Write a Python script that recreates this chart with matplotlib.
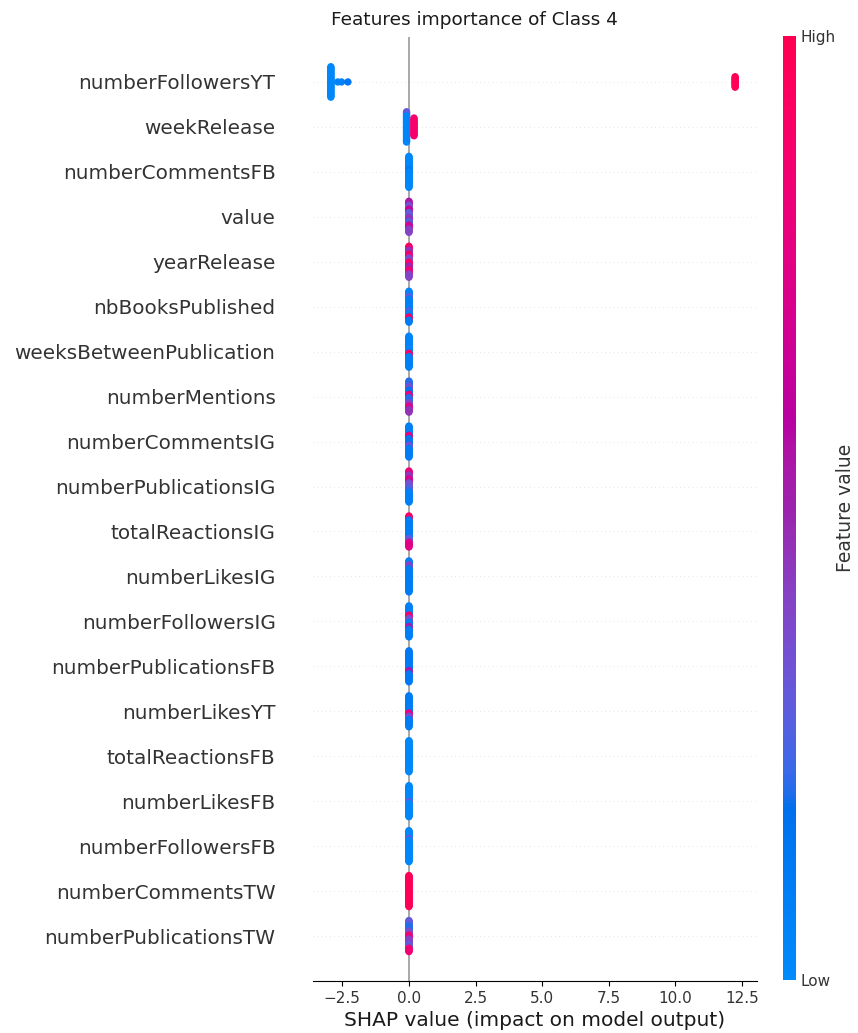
import numpy as np
import matplotlib
matplotlib.use("Agg")
import matplotlib.pyplot as plt
from matplotlib.colors import LinearSegmentedColormap
from matplotlib.cm import ScalarMappable

# Features, most important first
features = [
    "numberFollowersYT", "weekRelease", "numberCommentsFB", "value",
    "yearRelease", "nbBooksPublished", "weeksBetweenPublication",
    "numberMentions", "numberCommentsIG", "numberPublicationsIG",
    "totalReactionsIG", "numberLikesIG", "numberFollowersIG",
    "numberPublicationsFB", "numberLikesYT", "totalReactionsFB",
    "numberLikesFB", "numberFollowersFB", "numberCommentsTW",
    "numberPublicationsTW",
]

# SHAP value shared by each group of samples, per feature
group_shap = [
    [-2.93, -2.67, -2.53, -2.29, 12.24],
    [-0.09, 0.19],
    [0.0], [0.0], [0.0], [0.0], [0.0], [0.0], [0.0], [0.0],
    [0.0], [0.0], [0.0], [0.0], [0.0], [0.0], [0.0], [0.0],
    [0.0], [0.0],
]

# Samples inside each group as (count, normalised feature value), listed top to bottom
group_runs = [
    [[(33, 0.02)], [(1, 0.04)], [(1, 0.06)], [(1, 0.15)], [(12, 0.97)]],
    [[(4, 0.3), (26, 0.05)], [(18, 0.88)]],
    [[(20, 0.03), (4, 0.12), (24, 0.03)]],
    [[(6, 0.55), (6, 0.35), (5, 0.65), (8, 0.3), (6, 0.45), (5, 0.25), (6, 0.7), (6, 0.4)]],
    [[(6, 0.9), (6, 0.45), (6, 0.85), (6, 0.35), (6, 0.9), (6, 0.5), (6, 0.85), (6, 0.4)]],
    [[(8, 0.05), (4, 0.3), (18, 0.08), (4, 0.25), (5, 0.05), (5, 0.9), (4, 0.1)]],
    [[(26, 0.05), (5, 0.9), (17, 0.08)]],
    [[(8, 0.2), (6, 0.35), (6, 0.15), (5, 0.8), (8, 0.2), (5, 0.4), (5, 0.75), (5, 0.45)]],
    [[(14, 0.08), (5, 0.8), (10, 0.15), (5, 0.35), (14, 0.1)]],
    [[(6, 0.8), (6, 0.45), (6, 0.7), (8, 0.35), (6, 0.25), (16, 0.08)]],
    [[(6, 0.9), (28, 0.1), (6, 0.3), (8, 0.75)]],
    [[(6, 0.1), (6, 0.4), (36, 0.1)]],
    [[(14, 0.08), (5, 0.9), (6, 0.35), (6, 0.1), (5, 0.5), (12, 0.08)]],
    [[(30, 0.12), (5, 0.55), (13, 0.12)]],
    [[(26, 0.1), (5, 0.8), (5, 0.35), (12, 0.1)]],
    [[(48, 0.02)]],
    [[(24, 0.03), (3, 0.3), (21, 0.03)]],
    [[(12, 0.03), (3, 0.3), (33, 0.03)]],
    [[(48, 0.97)]],
    [[(8, 0.3), (8, 0.2), (6, 0.35), (6, 0.85), (8, 0.4), (6, 0.3), (6, 0.85)]],
]

x_ticks = [-2.5, 0.0, 2.5, 5.0, 7.5, 10.0, 12.5]


def lch_to_rgb(l, c, h):
    """CIE LCh -> sRGB (D65), clipped to the displayable range."""
    a, b = c * np.cos(h), c * np.sin(h)
    fy = (l + 16.0) / 116.0
    fx = fy + a / 500.0
    fz = fy - b / 200.0

    def finv(t):
        return t ** 3 if t > 6.0 / 29.0 else 3 * (6.0 / 29.0) ** 2 * (t - 4.0 / 29.0)

    xyz = np.array([0.95047 * finv(fx), 1.0 * finv(fy), 1.08883 * finv(fz)])
    m = np.array([[3.2404542, -1.5371385, -0.4985314],
                  [-0.9692660, 1.8760108, 0.0415560],
                  [0.0556434, -0.2040259, 1.0572252]])
    lin = m @ xyz
    rgb = np.where(lin > 0.0031308, 1.055 * np.abs(lin) ** (1 / 2.4) - 0.055, 12.92 * lin)
    return np.clip(rgb, 0, 1)


# Perceptual blue -> red colour scale
nsteps = 100
l_vals = np.concatenate([np.linspace(54.0, 40.0, nsteps // 2), np.linspace(40.0, 54.0, nsteps // 2)])
c_vals = np.linspace(70.0, 90.0, nsteps)
h_vals = np.linspace(4.6588, 0.35470565 + 2 * np.pi, nsteps)
cm_colors = [lch_to_rgb(l, c, h) for l, c, h in zip(l_vals, c_vals, h_vals)]
red_blue = LinearSegmentedColormap.from_list("red_blue", list(zip(np.linspace(0, 1, nsteps), cm_colors)))

W, H = 858, 1033
fig = plt.figure(figsize=(W / 100, H / 100), dpi=100)
ax = fig.add_axes([313 / W, 1 - 981 / H, 444 / W, 944 / H])
cax = fig.add_axes([783 / W, 1 - 980 / H, 13 / W, 944 / H])

n_rows = len(features)
for i, (shaps, runs) in enumerate(zip(group_shap, group_runs)):
    pos = n_rows - 1 - i
    ax.axhline(pos, color="#cccccc", lw=0.5, dashes=(1, 5), zorder=-1)
    counts = [sum(cnt for cnt, _ in r) for r in runs]
    step = 0.72 / (max(counts) + 1)
    xs, ys, cs = [], [], []
    for s, r in zip(shaps, runs):
        vals = np.concatenate([[fv] * cnt for cnt, fv in r])
        k = len(vals)
        offs = ((k - 1) / 2.0 - np.arange(k)) * step
        xs.extend([s] * k)
        ys.extend(pos + offs)
        cs.extend(vals)
    ax.scatter(xs, ys, c=cs, cmap=red_blue, vmin=0, vmax=1, s=28,
               linewidth=0, zorder=3)

ax.axvline(0, color="#999999", lw=1.2, zorder=-1)
ax.set_ylim(-1, n_rows)
ax.set_xlim(-3.6, 13.06)
ax.set_yticks(range(n_rows))
ax.set_yticklabels(features[::-1], fontsize=14.4, color="#333333")
ax.tick_params(axis="y", length=0, pad=27)
ax.set_xticks(x_ticks)
ax.tick_params(axis="x", labelsize=11, labelcolor="#333333")
for side in ("top", "right", "left"):
    ax.spines[side].set_visible(False)
ax.set_xlabel("SHAP value (impact on model output)", fontsize=14.5, color="#1a1a1a")

sm = ScalarMappable(cmap=red_blue)
sm.set_array([0, 1])
cb = fig.colorbar(sm, cax=cax, ticks=[0, 1])
cb.set_ticklabels(["Low", "High"])
cb.ax.tick_params(labelsize=11, length=0, labelcolor="#333333")
cb.outline.set_visible(False)
cb.set_label("Feature value", size=13.5, labelpad=0, color="#333333")

fig.text(474 / W, 1 - 20 / H, "Features importance of Class 4", ha="center", va="center",
         fontsize=13.3, color="#1a1a1a")

fig.savefig("out.png", dpi=100)
